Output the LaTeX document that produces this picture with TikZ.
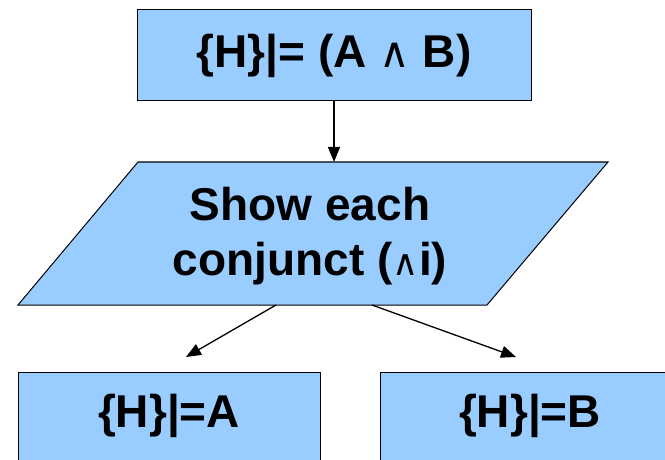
\documentclass[tikz,border=0pt]{standalone}
\usepackage{fontspec}
\setmainfont{Liberation Sans}
\newfontfamily\symfont{DejaVu Sans}
\usetikzlibrary{positioning, arrows.meta, calc}
\definecolor{boxblue}{HTML}{99CCFF}
\newcommand{\wdg}[1]{{\symfont\mdseries\fontsize{#1}{#1}\selectfont ∧}}

\begin{document}
\begin{tikzpicture}[x=1pt, y=-1pt,
  % --- Style definitions ---
  goal/.style={draw=black, fill=boxblue, line width=1pt, inner sep=0pt,
               font=\bfseries\fontsize{46}{55}\selectfont, align=center},
  txt/.style={font=\bfseries\fontsize{46}{55}\selectfont, align=center},
  arr/.style={-{Triangle[length=15pt, width=12pt]}, line width=1.3pt},
]
\useasboundingbox (0,0) rectangle (665,460);
\clip (0,0) rectangle (665,460);

% ===== Top goal =====
\node[goal, minimum width=394pt, minimum height=91pt] (top) at (334,55.5)
  {\{H\}|= (A \wdg{42}\ B)};

% ===== Rule (parallelogram) =====
\coordinate (p1) at (18,305);
\coordinate (p2) at (138,162);
\coordinate (p3) at (608,162);
\coordinate (p4) at (487,305);
\filldraw[draw=black, fill=boxblue, line width=1pt] (p1) -- (p2) -- (p3) -- (p4) -- cycle;
\node[txt] (rule) at (310,236) {Show each\\conjunct (\wdg{36}i)};

% ===== Sub-goals =====
\node[goal, minimum width=302pt, minimum height=88pt] (left) at (169,416) {\{H\}|=A};
\node[goal, minimum width=300pt, minimum height=88pt] (right) at (530,416) {\{H\}|=B};

% ===== Arrows =====
\draw[arr] (top.south) -- (top.south |- p2);

\coordinate (l0) at (276,305);
\coordinate (l1) at (186,357);
\coordinate (r0) at (372,305);
\coordinate (r1) at (516,357);
\draw[arr] (l0) -- (l1);
\draw[arr] (r0) -- (r1);

\end{tikzpicture}
\end{document}
